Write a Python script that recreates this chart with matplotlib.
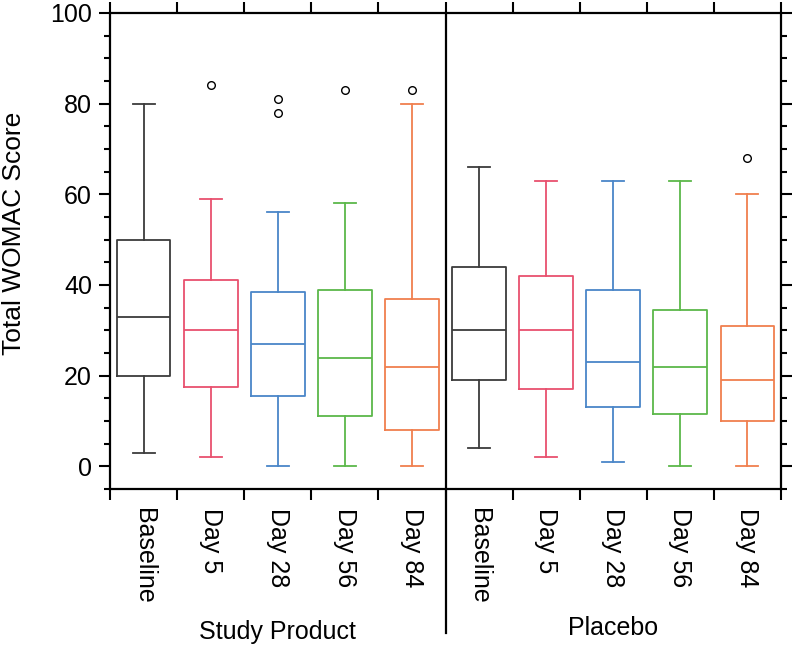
import matplotlib
matplotlib.use("Agg")
import matplotlib.pyplot as plt
from matplotlib.ticker import MultipleLocator

plt.rcParams['font.family'] = ['Liberation Sans', 'DejaVu Sans']

# box statistics
groups = ['Study Product', 'Placebo']
visits = ['Baseline', 'Day 5', 'Day 28', 'Day 56', 'Day 84']
colors = ['#3c3c3c', '#e8506e', '#4a86c8', '#5cb84a', '#f07f4e']

whislo = [3, 2, 0, 0, 0, 4, 2, 1, 0, 0]
q1 = [20, 17.5, 15.5, 11, 8, 19, 17, 13, 11.5, 10]
med = [33, 30, 27, 24, 22, 30, 30, 23, 22, 19]
q3 = [50, 41, 38.5, 39, 37, 44, 42, 39, 34.5, 31]
whishi = [80, 59, 56, 58, 80, 66, 63, 63, 63, 60]
fliers = [[], [84], [81, 78], [83], [83], [], [], [], [], [68]]

stats = []
for i in range(len(med)):
	stats.append(dict(whislo=whislo[i], q1=q1[i], med=med[i], q3=q3[i],
					  whishi=whishi[i], fliers=fliers[i]))

fig = plt.figure(figsize=(7.92, 6.48), dpi=100)
ax = fig.add_axes([0.139, 0.2454, 0.847, 0.7346])

pos = list(range(1, len(stats) + 1))
for i, s in enumerate(stats):
	c = colors[i % len(visits)]
	ax.bxp([s], positions=[pos[i]], widths=0.8, capwidths=0.33,
		   boxprops=dict(color=c, linewidth=1.3),
		   whiskerprops=dict(color=c, linewidth=1.3),
		   capprops=dict(color=c, linewidth=1.3),
		   medianprops=dict(color=c, linewidth=1.3),
		   flierprops=dict(marker='o', markerfacecolor='none',
						   markeredgecolor='black', markersize=5.5,
						   markeredgewidth=1.0),
		   manage_ticks=False)

ax.set_xlim(0.5, 10.5)
ax.set_ylim(-5, 100)

# y ticks on both sides, outward
ax.yaxis.set_major_locator(MultipleLocator(20))
ax.yaxis.set_minor_locator(MultipleLocator(5))
ax.tick_params(axis='y', which='both', direction='out', left=True, right=True,
			   labelsize=18, width=1.5, pad=5)
ax.tick_params(axis='y', which='major', length=8)
ax.tick_params(axis='y', which='minor', length=4)

# x: ticks at box boundaries (top and bottom), labels at box centres
ax.set_xticks([p + 0.5 for p in range(0, 11)])
ax.set_xticklabels([])
ax.set_xticks(pos, minor=True)
ax.set_xticklabels(visits * 2, minor=True, rotation=-90, fontsize=18)
ax.tick_params(axis='x', which='major', direction='out', top=True, bottom=True,
			   length=8, width=1.5)
ax.tick_params(axis='x', which='minor', length=0, pad=13.5)

for sp in ax.spines.values():
	sp.set_linewidth(1.6)

ax.set_ylabel('Total WOMAC Score', fontsize=19, va='center')
ax.yaxis.set_label_coords(-0.143, 0.537)

# divider between the groups, running down past the axis
trans = ax.get_xaxis_transform()
ax.plot([5.5, 5.5], [1, -0.302], color='black', linewidth=1.6,
		transform=trans, clip_on=False)

ax.text(3, -0.30, groups[0], transform=trans, ha='center', va='center', fontsize=18)
ax.text(8, -0.292, groups[1], transform=trans, ha='center', va='center', fontsize=18)

fig.savefig('out.png', dpi=100)
